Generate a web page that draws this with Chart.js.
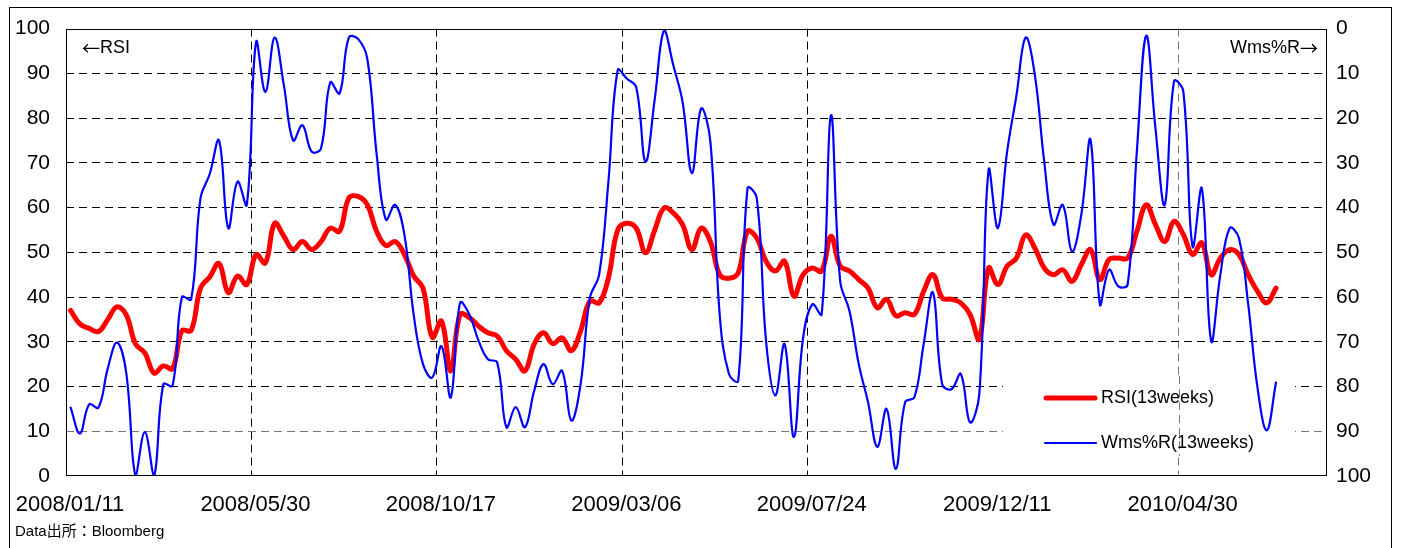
<!DOCTYPE html>
<html lang="ja">
    <head>
        <meta charset="utf-8">
        <title>RSI / Wms%R</title>
        <script src="https://cdn.jsdelivr.net/npm/chart.js"></script>
        <style>
            body {
                margin: 0;
                background: #fff;
            }
            .wrap {
                position: relative;
                width: 1407px;
                height: 548px;
                overflow: hidden;
            }
            .frame {
                position: absolute;
                left: 9px;
                top: 7px;
                width: 1381px;
                height: 600px;
                border: 1px solid #000;
                pointer-events: none;
            }
        </style>
    </head>
    <body>
        <div class="wrap">
            <canvas id="chart" width="1407" height="548"></canvas>
            <div class="frame"></div>
        </div>

        <script>
            // x tick labels, one every 20 weeks
            const tickDates = ['2008/01/11', '2008/05/30', '2008/10/17', '2009/03/06', '2009/07/24', '2009/12/11', '2010/04/30'];

            // weekly RSI (13 weeks), left axis
            const rsi = [
                37, 34, 33, 32.3, 35, 37.8, 36, 29.5, 27.5, 23,
                24.6, 24, 32.5, 32.5, 42, 44.5, 47.5, 41, 44.7, 42.8,
                49.5, 47.6, 56.5, 53.6, 50.6, 52.4, 50.6, 52.4, 55.4, 54.7,
                62.1, 62.5, 60.6, 54.7, 51.5, 52.4, 49.5, 44.7, 42, 31,
                34.6, 23.5, 36.1, 35.4, 33.5, 32, 31.3, 28, 26.1, 23.5,
                29.5, 32, 29.6, 30.9, 28, 32.4, 39.1, 38.7, 44.3, 55,
                56.5, 55.4, 49.9, 55, 59.9, 58.8, 56.2, 50.6, 55.4, 52.4,
                45, 44.2, 45.4, 54.7, 53.2, 48, 45.8, 48, 40.2, 45,
                46.5, 45.8, 53.6, 46.9, 45.8, 43.9, 42, 37.6, 39.5, 35.8,
                36.5, 36.1, 41.3, 45, 39.8, 39.5, 38.7, 36.1, 30.6, 46.5,
                42.8, 46.9, 48.7, 53.9, 50.9, 46.5, 45, 46.1, 43.5, 47.2,
                50.6, 43.9, 48.4, 48.7, 48.7, 54.7, 60.6, 56.2, 52.4, 56.9,
                54, 49.5, 52.1, 45, 48.7, 50.6, 49.5, 45, 41.3, 38.7, 42
            ];

            // weekly Williams %R (13 weeks), right axis (reversed)
            const wmsR = [
                84.7, 90.5, 84, 84.7, 76, 70.2, 77, 100, 90.2, 100,
                79.5, 79.8, 60, 60.5, 38, 32.5, 25, 44.6, 34.2, 39.4,
                3, 14.2, 2, 12.7, 25, 21.6, 27.5, 26.8, 12, 14.5,
                2, 2.3, 6.8, 28, 42.7, 39.4, 46.1, 64, 75, 78,
                71, 82.4, 61.3, 63.9, 69.8, 73.9, 74.6, 89.1, 84.6, 89.1,
                80.9, 75, 79.5, 76.5, 87.6, 79.5, 60.2, 55, 34.2, 9.3,
                11.2, 13.1, 29.7, 15.7, 0.4, 8.2, 16.4, 32.3, 17.9, 25.3,
                63.9, 77.2, 78.7, 35.7, 37.9, 69.8, 82, 70.5, 91.3, 69.1,
                61.6, 63.9, 19.4, 56.5, 63.1, 75, 83.5, 93.5, 85, 98.4,
                83.5, 82.4, 70.5, 59, 79.5, 80.6, 77.2, 88, 81.7, 31.6,
                44.6, 27.5, 15, 2, 10.5, 29.7, 43.8, 39.4, 49.8, 41.6,
                24.9, 61.6, 53.9, 57.6, 57.2, 27.2, 1.6, 22.3, 39.4, 11.8,
                14, 48.7, 35.7, 69.8, 55, 44.6, 46.8, 61.6, 80.2, 89.8, 79.1
            ];

            const FONT = '"Liberation Sans", Arial, "Noto Sans CJK JP", sans-serif';
            const ARROW_FONT = '18px "Noto Sans CJK JP", sans-serif';
            const DASH = [8, 5];

            // draws a run of [text, font] pieces starting at x
            function drawPieces(ctx, pieces, x, y) {
                pieces.forEach(([t, f]) => {
                    ctx.font = f;
                    ctx.fillText(t, x, y);
                    x += ctx.measureText(t).width;
                });
                return x;
            }
            function piecesWidth(ctx, pieces) {
                let w = 0;
                pieces.forEach(([t, f]) => { ctx.font = f; w += ctx.measureText(t).width; });
                return w;
            }

            // plot frame, legend box and the loose texts
            const decor = {
                id: 'decor',
                beforeDatasetsDraw(chart) {
                    const ctx = chart.ctx;
                    const gx = Math.round(chart.scales.x.getPixelForValue(120)) + 0.5;
                    ctx.save();
                    // legend box covers the lower grid lines
                    ctx.fillStyle = '#fff';
                    ctx.fillRect(1003, 376, 292, 80);
                    ctx.strokeStyle = '#777';
                    ctx.lineWidth = 1;
                    ctx.setLineDash(DASH);
                    ctx.beginPath();
                    ctx.moveTo(gx, 376);
                    ctx.lineTo(gx, 456);
                    ctx.stroke();
                    ctx.restore();
                },
                afterDatasetsDraw(chart) {
                    const ctx = chart.ctx;
                    const a = chart.chartArea;
                    const txt = '18px ' + FONT;
                    ctx.save();
                    ctx.strokeStyle = '#000';
                    ctx.lineWidth = 1;
                    ctx.strokeRect(Math.round(a.left) + 0.5, Math.round(a.top) + 0.5,
                        Math.round(a.right - a.left) - 1, Math.round(a.bottom - a.top) - 1);

                    ctx.fillStyle = '#000';
                    ctx.textBaseline = 'middle';
                    ctx.textAlign = 'left';
                    drawPieces(ctx, [['←', ARROW_FONT], ['RSI', txt]], 82, 48);
                    const right = [['Wms%R', txt], ['→', ARROW_FONT]];
                    drawPieces(ctx, right, 1318 - piecesWidth(ctx, right), 48);

                    // legend
                    ctx.lineCap = 'round';
                    ctx.strokeStyle = '#ff0000';
                    ctx.lineWidth = 5;
                    ctx.beginPath();
                    ctx.moveTo(1046, 398);
                    ctx.lineTo(1095, 398);
                    ctx.stroke();
                    ctx.strokeStyle = '#0000ff';
                    ctx.lineWidth = 2.2;
                    ctx.beginPath();
                    ctx.moveTo(1045, 443);
                    ctx.lineTo(1096, 443);
                    ctx.stroke();
                    ctx.font = txt;
                    ctx.fillText('RSI(13weeks)', 1101, 398);
                    ctx.fillText('Wms%R(13weeks)', 1101, 443);

                    // source
                    ctx.font = '15px ' + FONT;
                    ctx.fillText('Data出所：Bloomberg', 15, 532);
                    ctx.restore();
                }
            };

            const lineColor = (ctx, grey) => {
                const v = ctx.tick.value;
                if (v === 0 || v === 100) return 'rgba(0,0,0,0)';
                return grey ? '#777' : '#000';
            };

            new Chart(document.getElementById('chart'), {
                type: 'line',
                data: {
                    datasets: [
                        {
                            label: 'RSI(13weeks)',
                            data: rsi.map((v, i) => ({ x: i + 0.5, y: v })),
                            yAxisID: 'y',
                            borderColor: '#ff0000',
                            borderWidth: 5,
                            order: 2
                        },
                        {
                            label: 'Wms%R(13weeks)',
                            data: wmsR.map((v, i) => ({ x: i + 0.5, y: v })),
                            yAxisID: 'y1',
                            borderColor: '#0000ff',
                            borderWidth: 2.2,
                            order: 1
                        }
                    ]
                },
                options: {
                    responsive: false,
                    animation: false,
                    layout: { padding: { top: 26, left: 0, right: 0, bottom: 0 } },
                    elements: {
                        point: { radius: 0 },
                        line: { tension: 0.4, borderJoinStyle: 'round', borderCapStyle: 'round' }
                    },
                    plugins: {
                        legend: { display: false },
                        tooltip: { enabled: false }
                    },
                    scales: {
                        x: {
                            type: 'linear',
                            min: 0,
                            max: 136,
                            afterBuildTicks: s => { s.ticks = tickDates.map((d, k) => ({ value: k * 20 })); },
                            afterFit: s => {
                                s.height = 72;
                                s.paddingLeft = 0;
                                s.paddingRight = 0;
                            },
                            ticks: {
                                callback: (v, i) => tickDates[i],
                                padding: 16,
                                labelOffset: 4,
                                maxRotation: 0,
                                autoSkip: false,
                                color: '#000',
                                font: { family: FONT, size: 22 }
                            },
                            grid: {
                                drawTicks: false,
                                lineWidth: 1,
                                color: ctx => lineColor(ctx, ctx.index === 6)
                            },
                            border: { display: false, dash: DASH }
                        },
                        y: {
                            position: 'left',
                            min: 0,
                            max: 100,
                            afterFit: s => { s.width = 66; },
                            ticks: {
                                stepSize: 10,
                                padding: 16,
                                color: '#000',
                                font: { family: FONT, size: 21 }
                            },
                            grid: {
                                drawTicks: false,
                                lineWidth: 1,
                                color: ctx => lineColor(ctx, ctx.tick.value === 10)
                            },
                            border: { display: false, dash: DASH }
                        },
                        y1: {
                            position: 'right',
                            reverse: true,
                            min: 0,
                            max: 100,
                            afterFit: s => { s.width = 80; },
                            ticks: {
                                stepSize: 10,
                                padding: 9,
                                color: '#000',
                                font: { family: FONT, size: 21 }
                            },
                            grid: { drawOnChartArea: false, drawTicks: false },
                            border: { display: false }
                        }
                    }
                },
                plugins: [decor]
            });
        </script>
    </body>
</html>
